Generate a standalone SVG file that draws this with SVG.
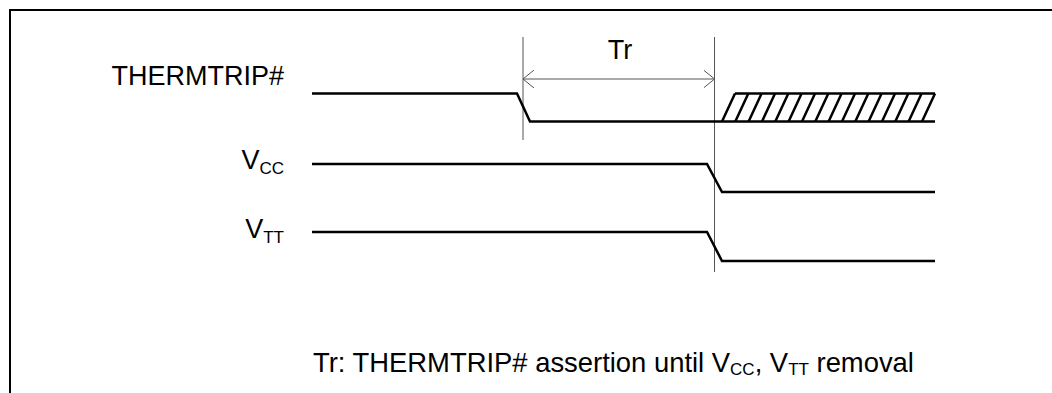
<svg xmlns="http://www.w3.org/2000/svg" width="1052" height="393" viewBox="0 0 1052 393">
<style>
.sig{fill:none;stroke:#000;stroke-width:2.5;stroke-linejoin:miter}
.ref{fill:none;stroke:#555;stroke-width:1}
.lbl{font-family:"Liberation Sans",Arial,sans-serif;font-size:27px;fill:#000}
.sub{font-size:17px}
.nsub{font-size:17px}
</style>
<defs>
<marker id="chev" viewBox="0 0 12 18" refX="11" refY="9" markerWidth="12" markerHeight="18" markerUnits="userSpaceOnUse" orient="auto-start-reverse">
<path d="M0,0 L11,9 L0,18" fill="none" stroke="#555" stroke-width="1"/>
</marker>
</defs>
<rect width="1052" height="393" fill="#fff"/>
<g id="frame"><path d="M10,393 V10 H1052" fill="none" stroke="#000" stroke-width="2"/></g>
<g id="connectors">
<line class="ref" x1="523" y1="37" x2="523" y2="140"/>
<line class="ref" x1="714.5" y1="37" x2="714.5" y2="272"/>
<line class="ref" x1="523" y1="79" x2="714.5" y2="79" marker-start="url(#chev)" marker-end="url(#chev)"/>
</g>
<g id="tr-label"><text class="lbl" x="620" y="59" text-anchor="middle">Tr</text></g>
<g id="thermtrip">
<text class="lbl" x="284" y="85" text-anchor="end">THERMTRIP#</text>
<path class="sig" d="M312,93.5 H517 L530,121.5 H935"/>
<path class="sig" d="M735,93.5 H935"/>
<path class="sig" d="M722,121.5 L735,93.5 M735.3,121.5 L748.3,93.5 M748.6,121.5 L761.6,93.5 M762,121.5 L775,93.5 M775.3,121.5 L788.3,93.5 M788.6,121.5 L801.6,93.5 M802,121.5 L815,93.5 M815.3,121.5 L828.3,93.5 M828.6,121.5 L841.6,93.5 M842,121.5 L855,93.5 M855.3,121.5 L868.3,93.5 M868.6,121.5 L881.6,93.5 M882,121.5 L895,93.5 M895.3,121.5 L908.3,93.5 M908.6,121.5 L921.6,93.5 M922,121.5 L935,93.5"/>
</g>
<g id="vcc">
<text class="lbl" x="284" y="169" text-anchor="end">V<tspan class="sub" dy="5">CC</tspan></text>
<path class="sig" d="M312,164 H707 L722,192 H935"/>
</g>
<g id="vtt">
<text class="lbl" x="284" y="238" text-anchor="end">V<tspan class="sub" dy="5">TT</tspan></text>
<path class="sig" d="M312,232 H707 L722,261 H935"/>
</g>
<g id="note">
<text class="lbl" x="313" y="372" style="font-size:27.4px">Tr: THERMTRIP# assertion until V<tspan class="nsub" dy="3">CC</tspan><tspan dy="-3">, V</tspan><tspan class="nsub" dy="3">TT</tspan><tspan dy="-3"> removal</tspan></text>
</g>
</svg>
